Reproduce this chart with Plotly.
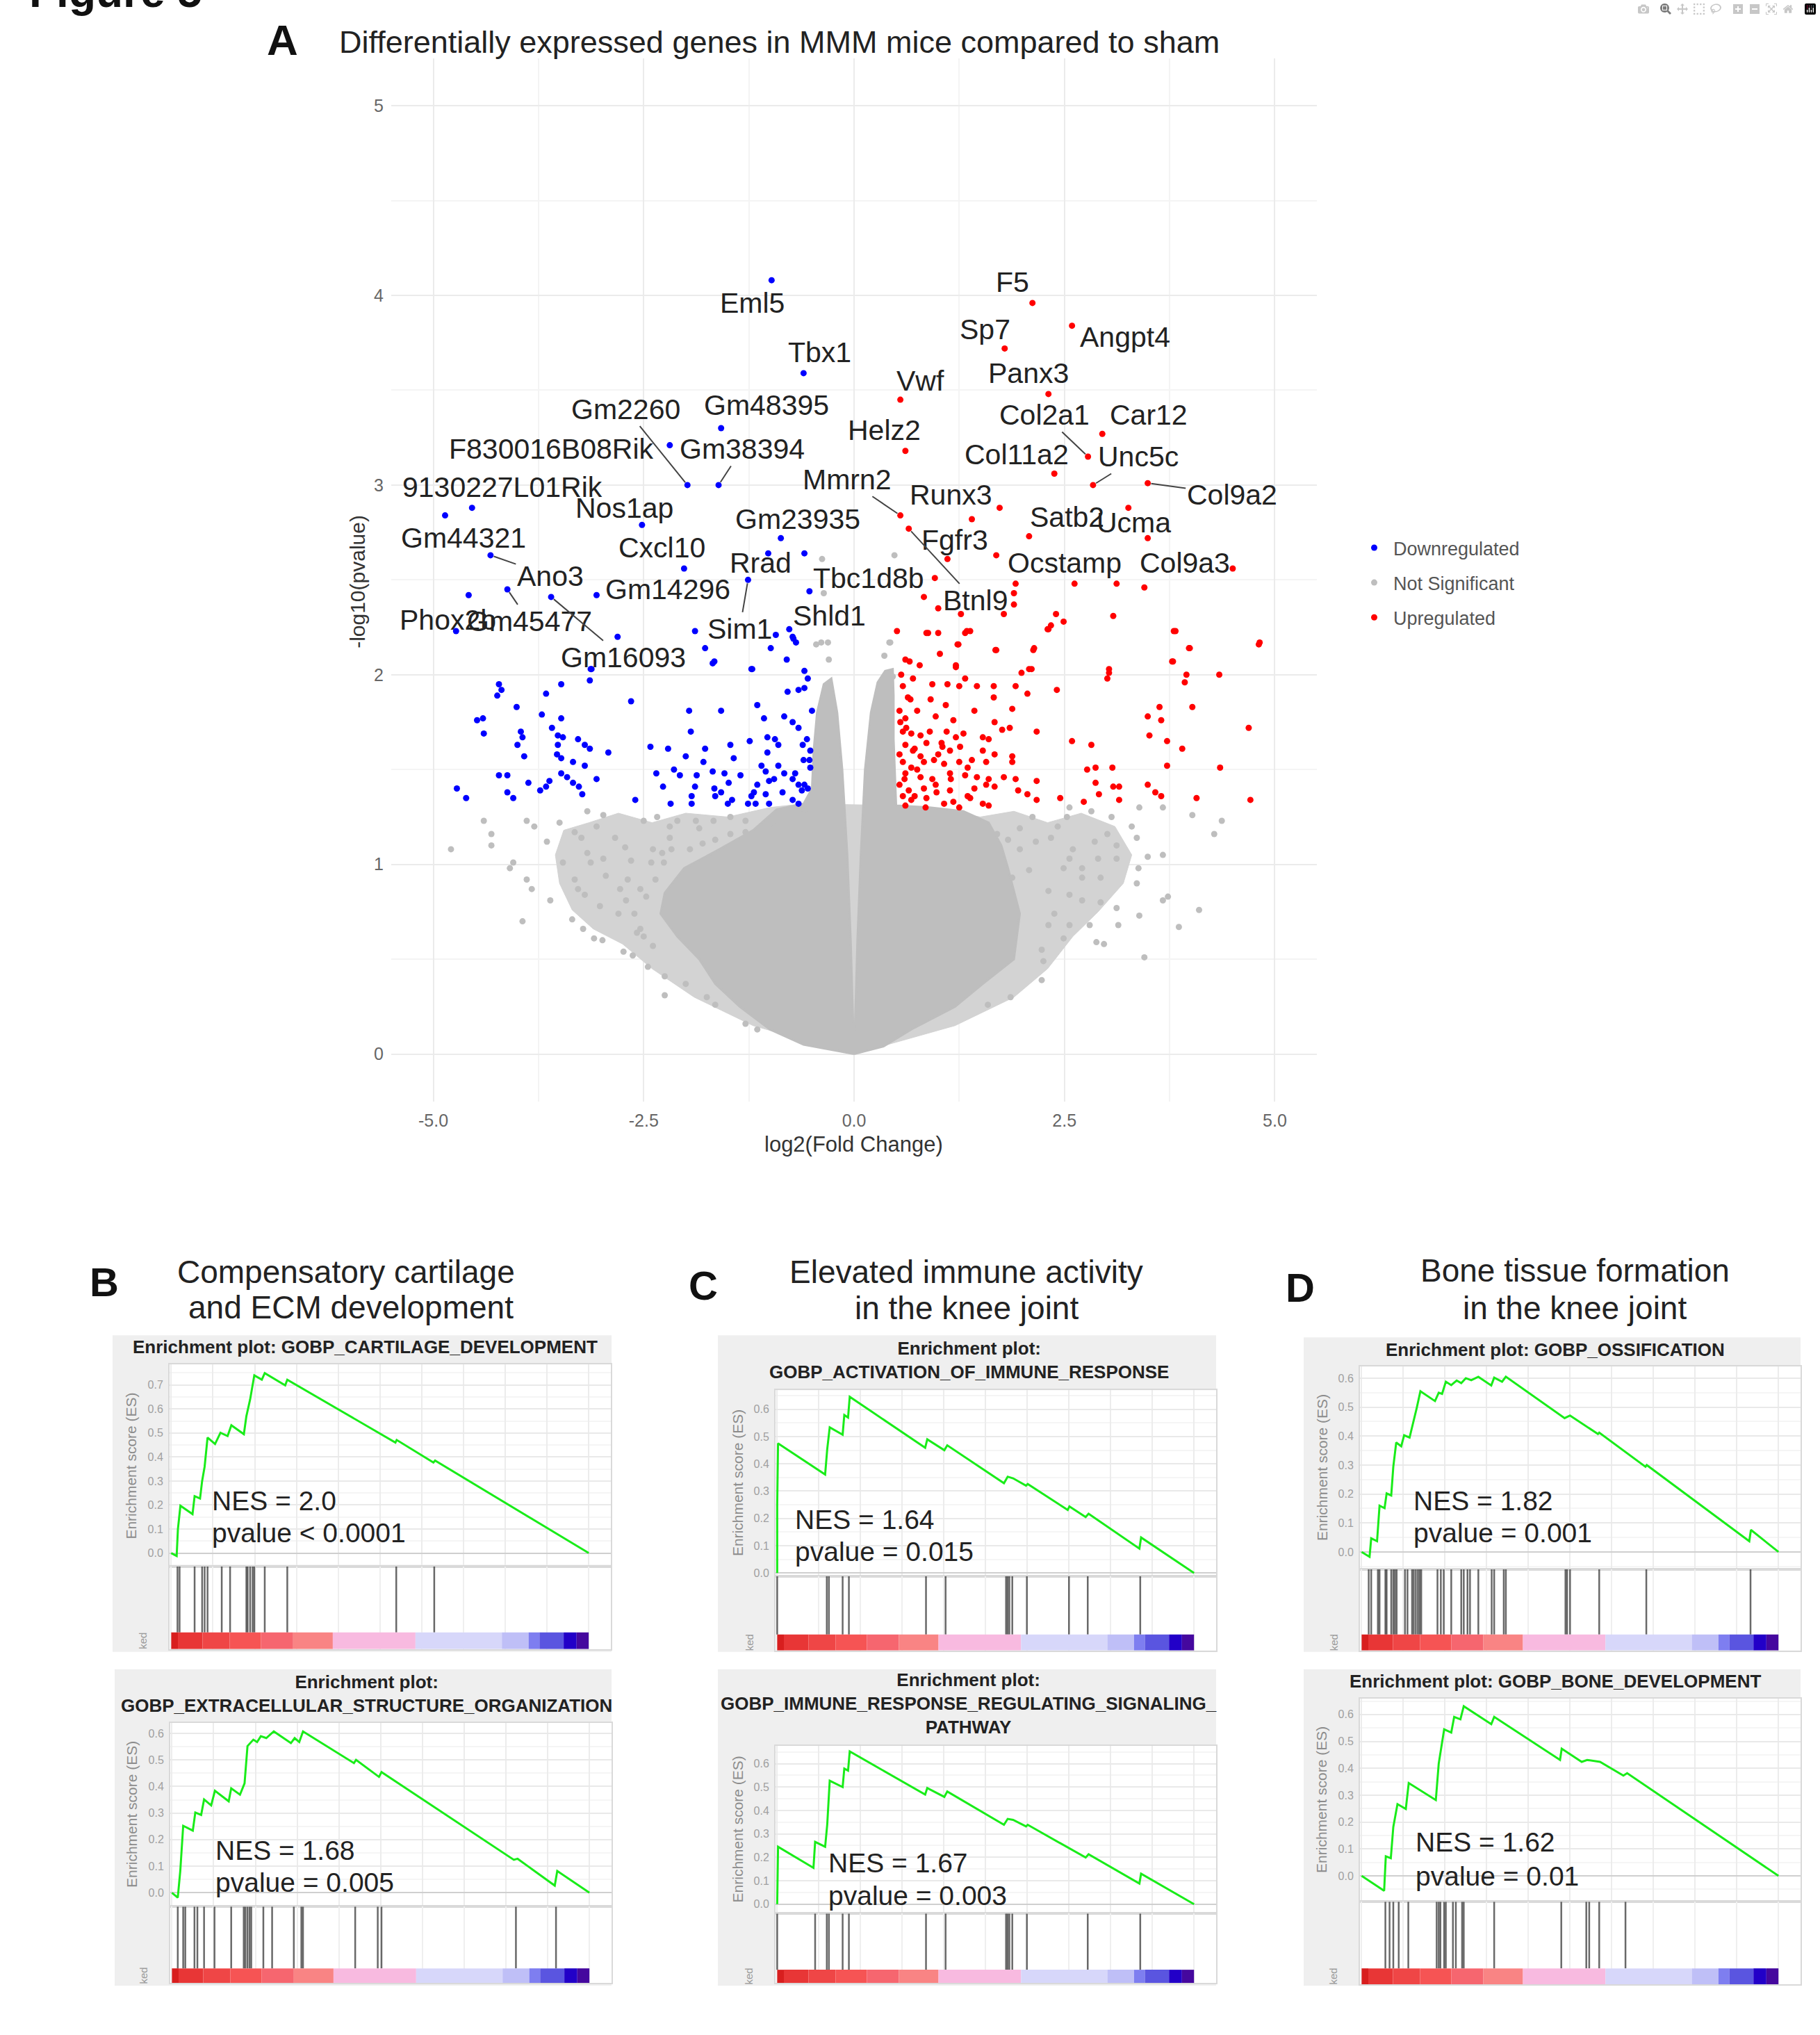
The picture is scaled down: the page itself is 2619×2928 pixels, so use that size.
import plotly.graph_objects as go

W, H = 2619, 2928
FONT = "Liberation Sans, Arial, Helvetica, sans-serif"

# ---------------- Panel A: volcano data ----------------
x_ticks = [-5.0, -2.5, 0.0, 2.5, 5.0]
x_tick_labels = ["-5.0", "-2.5", "0.0", "2.5", "5.0"]
y_ticks = [0, 1, 2, 3, 4, 5]
y_tick_labels = ["0", "1", "2", "3", "4", "5"]

down_pts = [
    (-2.81, 2.20), (-1.89, 2.23), (-0.93, 2.21), (-0.73, 2.20), (-0.69, 2.17), (-1.77, 2.14), (-0.99, 2.14),
    (-1.66, 2.07), (-1.68, 2.06), (-0.80, 2.08), (-1.22, 2.03), (-3.13, 2.03), (-3.14, 1.97), (-0.59, 2.02),
    (-0.55, 1.98), (-4.22, 1.95), (-4.19, 1.92), (-4.24, 1.89), (-3.66, 1.90), (-3.48, 1.95), (-2.65, 1.86),
    (-0.59, 1.93), (-0.66, 1.92), (-0.79, 1.91), (-4.01, 1.83), (-4.48, 1.76), (-4.41, 1.77), (-4.40, 1.69),
    (-3.71, 1.79), (-3.48, 1.77), (-3.59, 1.72), (-3.96, 1.70), (-3.94, 1.67), (-4.00, 1.63), (-3.92, 1.57),
    (-3.52, 1.68), (-3.46, 1.67), (-3.52, 1.63), (-3.53, 1.58), (-3.48, 1.56), (-3.28, 1.66), (-3.20, 1.63),
    (-3.14, 1.61), (-2.92, 1.59), (-1.96, 1.81), (-1.58, 1.81), (-1.15, 1.84), (-1.07, 1.77), (-0.83, 1.78),
    (-0.73, 1.75), (-0.66, 1.72), (-0.50, 1.81), (-1.94, 1.70), (-1.24, 1.65), (-1.03, 1.67), (-0.94, 1.66),
    (-0.90, 1.63), (-1.03, 1.59), (-0.61, 1.63), (-0.52, 1.60), (-0.53, 1.55), (-0.52, 1.51), (-2.42, 1.62),
    (-2.21, 1.61), (-2.00, 1.57), (-1.77, 1.61), (-1.47, 1.63), (-1.43, 1.56), (-2.35, 1.48), (-2.14, 1.50),
    (-2.07, 1.47), (-1.79, 1.54), (-1.68, 1.49), (-1.54, 1.48), (-1.87, 1.47), (-1.89, 1.41), (-1.93, 1.36),
    (-1.66, 1.40), (-1.58, 1.38), (-1.49, 1.43), (-1.65, 1.36), (-1.15, 1.42), (-1.05, 1.49), (-0.90, 1.52),
    (-0.83, 1.48), (-1.01, 1.44), (-1.19, 1.38), (-1.22, 1.36), (-1.26, 1.32), (-1.17, 1.32), (-1.05, 1.37),
    (-1.01, 1.32), (-0.73, 1.45), (-0.66, 1.42), (-0.59, 1.42), (-0.62, 1.39), (-0.73, 1.34), (-0.66, 1.32),
    (-2.27, 1.41), (-2.60, 1.34), (-2.18, 1.32), (-1.93, 1.32), (-1.50, 1.32), (-4.22, 1.47), (-4.12, 1.47),
    (-3.62, 1.44), (-3.66, 1.41), (-3.73, 1.39), (-3.48, 1.48), (-3.41, 1.46), (-3.34, 1.43), (-3.27, 1.41),
    (-3.23, 1.37), (-3.06, 1.45), (-3.34, 1.54), (-3.20, 1.52), (-4.72, 1.40), (-4.61, 1.35), (-4.12, 1.38),
    (-4.05, 1.35), (-3.87, 1.43), (-4.58, 2.42), (-0.59, 2.64), (-0.72, 2.19), (-1.21, 2.03), (-3.12, 2.03),
    (-0.55, 1.40), (-0.60, 1.55), (-0.70, 1.48), (-0.85, 1.38), (-0.95, 1.45), (-1.10, 1.52), (-0.56, 1.66),
    (-1.35, 1.47), (-1.45, 1.34),
]

up_pts = [
    (0.51, 2.23), (0.86, 2.22), (1.00, 2.22), (1.32, 2.22), (1.38, 2.23), (2.31, 2.24), (3.80, 2.23), (4.81, 2.16),
    (3.99, 2.14), (1.23, 2.16), (1.02, 2.11), (1.69, 2.13), (2.13, 2.13), (0.61, 2.08), (0.66, 2.07), (1.21, 2.04),
    (3.78, 2.07), (3.03, 2.01), (3.01, 1.98), (3.93, 1.96), (4.34, 2.00), (2.08, 2.03), (1.99, 2.01), (0.70, 1.98),
    (0.58, 1.94), (0.93, 1.95), (1.11, 1.95), (1.25, 1.94), (1.32, 1.98), (1.46, 1.94), (1.66, 1.94), (1.92, 1.94),
    (2.06, 1.90), (2.41, 1.92), (1.66, 1.88), (0.67, 1.87), (0.91, 1.87), (1.09, 1.84), (1.88, 1.82), (1.43, 1.81),
    (3.63, 1.83), (4.02, 1.83), (0.54, 1.81), (0.75, 1.81), (0.61, 1.77), (0.97, 1.78), (1.18, 1.76), (1.67, 1.75),
    (1.85, 1.72), (3.49, 1.78), (3.65, 1.76), (4.69, 1.72), (2.17, 1.70), (3.51, 1.68), (3.72, 1.65), (3.90, 1.61),
    (2.59, 1.65), (2.82, 1.63), (0.58, 1.70), (0.68, 1.69), (0.79, 1.68), (0.86, 1.64), (1.04, 1.64), (1.21, 1.67),
    (1.30, 1.69), (1.53, 1.67), (1.60, 1.66), (1.76, 1.71), (0.61, 1.63), (0.72, 1.61), (0.54, 1.58), (0.79, 1.57),
    (1.00, 1.58), (1.14, 1.60), (1.53, 1.60), (1.67, 1.58), (1.88, 1.57), (0.58, 1.54), (0.68, 1.51), (0.83, 1.54),
    (1.07, 1.53), (1.25, 1.54), (1.35, 1.51), (1.57, 1.54), (1.88, 1.54), (3.72, 1.52), (4.35, 1.51), (2.77, 1.50),
    (2.87, 1.51), (3.07, 1.51), (0.61, 1.48), (0.79, 1.46), (0.93, 1.45), (1.14, 1.48), (1.32, 1.47), (1.46, 1.46),
    (1.60, 1.45), (1.78, 1.46), (1.92, 1.45), (2.17, 1.44), (2.87, 1.43), (3.08, 1.41), (3.15, 1.41), (3.49, 1.42),
    (0.54, 1.42), (0.65, 1.39), (0.83, 1.40), (0.97, 1.42), (1.14, 1.39), (1.43, 1.40), (1.57, 1.42), (1.67, 1.41),
    (1.95, 1.39), (2.06, 1.37), (2.17, 1.34), (2.45, 1.35), (2.73, 1.33), (2.91, 1.37), (3.15, 1.34), (3.58, 1.38),
    (3.65, 1.36), (4.07, 1.35), (4.71, 1.34), (0.58, 1.36), (0.68, 1.34), (0.86, 1.35), (1.07, 1.32), (1.18, 1.33),
    (1.35, 1.36), (1.53, 1.32), (0.61, 1.31), (1.60, 1.31), (0.55, 1.75), (0.62, 1.72), (0.70, 1.60), (0.75, 1.50),
    (0.60, 1.45), (0.90, 1.70), (0.95, 1.55), (1.10, 1.70), (1.15, 1.45), (0.85, 1.30), (0.72, 1.36), (1.25, 1.30),
    (1.40, 1.55), (1.38, 1.35), (0.64, 1.88), (0.56, 2.00), (0.78, 2.05), (1.05, 1.62), (0.98, 1.38), (1.26, 1.62),
    (1.73, 2.88), (3.26, 2.88), (0.96, 2.51), (0.83, 2.41), (1.00, 2.35), (1.27, 2.32), (1.92, 2.48), (1.90, 2.43),
    (1.90, 2.37), (1.78, 2.32), (2.62, 2.48), (3.12, 2.48), (3.45, 2.46), (2.40, 2.32), (2.49, 2.28), (2.34, 2.26),
    (2.30, 2.24), (3.08, 2.31), (3.82, 2.23), (3.98, 2.14), (4.82, 2.17), (3.79, 2.07), (0.88, 2.22), (1.34, 2.23),
    (1.24, 2.16), (1.68, 2.13), (2.14, 2.14), (1.21, 2.05), (3.95, 2.00), (3.03, 2.03), (2.11, 2.03),
]

# individually visible not-significant genes
ns_pts = [
    # left flank
    (-4.79, 1.08), (-4.40, 1.23), (-4.31, 1.16), (-4.31, 1.10), (-4.05, 1.01), (-4.09, 0.98), (-3.89, 0.92),
    (-3.83, 0.87), (-3.94, 0.70), (-3.61, 0.81), (-3.89, 1.23), (-3.80, 1.20), (-3.65, 1.12), (-3.50, 1.22),
    (-3.32, 1.17), (-3.24, 1.14), (-3.17, 1.28), (-2.98, 1.26), (-3.06, 1.20), (-3.46, 1.01), (-3.17, 1.06),
    (-3.13, 1.01), (-2.98, 1.03), (-2.95, 0.94), (-3.32, 0.92), (-3.28, 0.87), (-3.20, 0.84), (-3.02, 0.78),
    (-3.35, 0.71), (-3.22, 0.66), (-3.09, 0.61), (-2.74, 0.54), (-2.84, 1.14), (-2.72, 1.09), (-2.65, 1.02),
    (-2.78, 0.87), (-2.71, 0.81), (-2.61, 0.74), (-2.58, 0.64), (-2.45, 0.46), (-2.25, 0.41), (-2.25, 0.31),
    (-1.75, 0.30), (-2.50, 1.23), (-2.34, 1.25), (-2.19, 1.20), (-2.10, 1.23), (-1.88, 1.23), (-1.67, 1.23),
    (-1.47, 1.25), (-1.29, 1.23), (-2.39, 1.08), (-2.28, 1.06), (-2.17, 1.08), (-2.41, 1.01), (-2.26, 1.01),
    (-2.19, 1.14), (-1.95, 1.08), (-1.80, 1.11), (-1.65, 1.13), (-1.47, 1.16), (-1.29, 1.17), (-1.84, 1.19),
    (-2.69, 0.92), (-2.54, 0.87), (-2.47, 0.83), (-2.36, 0.92), (-2.80, 0.74), (-2.54, 0.66), (-2.50, 0.62),
    (-2.39, 0.57), (-2.00, 0.37), (-1.65, 0.26), (-1.29, 0.16), (-1.15, 0.13), (-2.99, 0.60), (-2.63, 0.52),
    (-0.94, 1.20), (-0.59, 1.29),
    # right flank
    (2.56, 1.30), (3.39, 1.30), (3.67, 1.30), (4.02, 1.26), (4.37, 1.23), (4.28, 1.16), (3.67, 1.05), (3.49, 1.04),
    (4.10, 0.76), (3.86, 0.67), (3.45, 0.51), (3.39, 0.73), (3.12, 0.77), (3.14, 0.68), (2.97, 0.58), (2.88, 0.59),
    (2.80, 0.68), (3.36, 1.14), (3.30, 1.20), (3.38, 0.98), (3.36, 0.90), (3.67, 0.81), (3.73, 0.83), (3.12, 1.10),
    (3.01, 1.16), (3.06, 1.25), (2.82, 1.28), (2.86, 1.12), (2.90, 1.03), (2.93, 0.93), (3.12, 1.03), (2.60, 1.08),
    (2.49, 0.98), (2.42, 1.20), (2.53, 1.25), (2.16, 1.12), (2.34, 1.14), (2.56, 1.03), (2.71, 0.98), (2.71, 0.93),
    (2.56, 0.84), (2.71, 0.81), (2.93, 0.80), (2.31, 0.86), (2.38, 0.74), (2.31, 0.68), (2.23, 0.55), (2.25, 0.49),
    (2.23, 0.39), (1.86, 0.30), (1.59, 0.26), (1.97, 1.19), (2.12, 1.25), (1.83, 1.13), (1.70, 1.16), (1.97, 1.08),
    (2.08, 0.97), (1.88, 0.93), (2.49, 0.61), (2.56, 0.68),
    # near the centre, above the cloud
    (-0.39, 2.17), (-0.38, 2.61), (-0.36, 2.43), (-0.45, 2.16), (0.42, 2.17), (0.48, 2.63), (0.43, 2.17),
    (-0.31, 2.17), (0.46, 1.99), (-0.30, 2.08), (0.36, 2.10),
]

# outline of the loosely packed part of the not-significant cloud
ns_outer = [
    (0.0, 0.0), (-1.2, 0.15), (-1.9, 0.30), (-2.4, 0.45), (-2.75, 0.58), (-3.1, 0.66), (-3.35, 0.76),
    (-3.5, 0.90), (-3.55, 1.05), (-3.45, 1.18), (-3.15, 1.22), (-2.8, 1.27), (-2.4, 1.22), (-2.0, 1.27),
    (-1.5, 1.25), (-1.0, 1.30), (-0.6, 1.32), (0.5, 1.31), (1.0, 1.29), (1.5, 1.25), (1.9, 1.28), (2.3, 1.22),
    (2.7, 1.27), (3.1, 1.20), (3.3, 1.05), (3.2, 0.90), (2.9, 0.75), (2.6, 0.62), (2.3, 0.45), (1.9, 0.30),
    (1.2, 0.15), (0.0, 0.0),
]
# outline of the densely packed core of the cloud (with the central notch)
ns_core = [
    (0.0, 0.0), (-0.6, 0.05), (-1.0, 0.13), (-1.36, 0.25), (-1.65, 0.37), (-1.84, 0.50), (-2.1, 0.62),
    (-2.3, 0.74), (-2.25, 0.85), (-2.02, 0.98), (-1.6, 1.08), (-1.2, 1.18), (-0.92, 1.29), (-0.6, 1.32),
    (-0.5, 1.40), (-0.48, 1.60), (-0.44, 1.80), (-0.36, 1.95), (-0.27, 1.98), (-0.20, 1.80), (-0.14, 1.50),
    (-0.08, 1.05), (-0.04, 0.60), (-0.01, 0.14), (0.01, 0.125), (0.04, 0.60), (0.08, 1.05), (0.13, 1.50),
    (0.20, 1.80), (0.28, 1.96), (0.37, 2.02), (0.46, 2.03), (0.47, 1.89), (0.47, 1.66), (0.50, 1.31),
    (0.9, 1.30), (1.3, 1.28), (1.6, 1.22), (1.75, 1.10), (1.83, 0.98), (1.97, 0.74), (1.90, 0.50),
    (1.53, 0.37), (1.2, 0.25), (0.68, 0.13), (0.35, 0.04), (0.0, 0.0),
]

gene_names = ["Eml5", "Tbx1", "Gm48395", "Gm2260", "F830016B08Rik", "Gm38394", "9130227L01Rik", "Nos1ap",
              "Gm44321", "Ano3", "Phox2b", "Gm45477", "Gm16093", "Cxcl10", "Gm14296", "Gm23935", "Rrad", "Sim1",
              "Tbc1d8b", "Shld1", "Mmrn2", "Helz2", "Vwf", "F5", "Sp7", "Angpt4", "Panx3", "Col2a1", "Car12",
              "Col11a2", "Unc5c", "Col9a2", "Runx3", "Satb2", "Ucma", "Fgfr3", "Btnl9", "Ocstamp", "Col9a3"]
gene_x = [-0.98, -0.60, -1.58, -1.98, -2.19, -1.61, -4.54, -2.52, -4.86, -4.32, -4.73, -4.12, -3.60, -2.02,
          -3.06, -0.87, -1.02, -1.26, -0.53, -0.77, 0.55, 0.61, 0.55, 2.12, 1.79, 2.59, 2.31, 2.78, 2.95, 2.38,
          2.84, 3.49, 1.40, 2.08, 3.49, 1.11, 0.65, 1.69, 4.50]
gene_y = [4.08, 3.59, 3.30, 3.00, 3.21, 3.00, 2.88, 2.79, 2.84, 2.63, 2.23, 2.45, 2.41, 2.56, 2.42, 2.72, 2.64,
          2.50, 2.44, 2.24, 2.84, 3.18, 3.45, 3.96, 3.72, 3.84, 3.48, 3.15, 3.27, 3.06, 3.00, 3.01, 2.82, 2.73,
          2.72, 2.61, 2.77, 2.63, 2.56]
# label placement (ggrepel-style offsets)
label_x = [-1.21, -0.41, -1.04, -2.71, -3.60, -1.33, -4.18, -2.73, -4.64, -3.61, -4.83, -3.86, -2.74, -2.28,
           -2.21, -0.67, -1.11, -1.36, 0.17, -0.29, -0.08, 0.36, 0.79, 1.88, 1.56, 3.22, 2.07, 2.26, 3.50, 1.93,
           3.38, 4.49, 1.15, 2.53, 3.32, 1.20, 1.44, 2.50, 3.93]
label_y = [3.96, 3.70, 3.42, 3.40, 3.19, 3.19, 2.99, 2.88, 2.72, 2.52, 2.29, 2.28, 2.09, 2.67, 2.45, 2.82, 2.59,
           2.24, 2.51, 2.31, 3.03, 3.29, 3.55, 4.07, 3.82, 3.78, 3.59, 3.37, 3.37, 3.16, 3.15, 2.95, 2.95, 2.83,
           2.80, 2.71, 2.39, 2.59, 2.59]
segment_genes = ["Gm2260", "Gm38394", "Ano3", "Gm45477", "Gm16093", "Sim1", "Mmrn2", "Btnl9", "Col2a1",
                 "Unc5c", "Col9a2"]

# ---------------- GSEA panels data ----------------
es_B1_x = [0, 0.013, 0.016, 0.022, 0.051, 0.056, 0.069, 0.074, 0.080, 0.087, 0.105, 0.118, 0.135, 0.144, 0.174,
           0.180, 0.189, 0.199, 0.217, 0.224, 0.273, 0.278, 0.537, 0.540, 0.628, 0.632, 1.0]
es_B1_y = [0, -0.012, 0.10, 0.197, 0.162, 0.237, 0.227, 0.30, 0.36, 0.481, 0.454, 0.501, 0.487, 0.532, 0.495,
           0.57, 0.64, 0.740, 0.722, 0.749, 0.698, 0.722, 0.460, 0.471, 0.377, 0.385, 0.0]
hits_B1 = [0.015, 0.020, 0.056, 0.074, 0.080, 0.087, 0.121, 0.141, 0.180, 0.183, 0.189, 0.195, 0.199, 0.224,
           0.278, 0.539, 0.630]

es_B2_x = [0, 0.014, 0.020, 0.027, 0.050, 0.056, 0.070, 0.077, 0.094, 0.103, 0.136, 0.142, 0.163, 0.174, 0.181,
           0.195, 0.204, 0.213, 0.226, 0.244, 0.285, 0.294, 0.305, 0.314, 0.436, 0.441, 0.496, 0.502, 0.819,
           0.828, 0.917, 0.923, 1.0]
es_B2_y = [0, -0.018, 0.082, 0.252, 0.234, 0.302, 0.293, 0.351, 0.329, 0.384, 0.344, 0.393, 0.369, 0.412, 0.552,
           0.576, 0.567, 0.589, 0.582, 0.607, 0.563, 0.582, 0.567, 0.607, 0.488, 0.500, 0.436, 0.454, 0.124,
           0.128, 0.027, 0.082, 0.0]
hits_B2 = [0.014, 0.027, 0.032, 0.054, 0.061, 0.077, 0.102, 0.142, 0.172, 0.176, 0.181, 0.186, 0.190, 0.219,
           0.240, 0.292, 0.310, 0.314, 0.439, 0.493, 0.502, 0.824, 0.920]

es_C1_x = [0, 0, 0.002, 0.115, 0.120, 0.126, 0.157, 0.161, 0.170, 0.174, 0.355, 0.360, 0.401, 0.408, 0.544,
           0.553, 0.566, 0.597, 0.601, 0.697, 0.701, 0.740, 0.747, 0.869, 0.873, 1.0]
es_C1_y = [0, 0.249, 0.475, 0.361, 0.454, 0.534, 0.507, 0.579, 0.570, 0.646, 0.459, 0.490, 0.450, 0.468, 0.329,
           0.353, 0.347, 0.320, 0.326, 0.231, 0.244, 0.205, 0.217, 0.089, 0.130, 0.0]
hits_C1 = [0.0, 0.119, 0.124, 0.157, 0.172, 0.357, 0.404, 0.549, 0.553, 0.557, 0.564, 0.599, 0.700, 0.745, 0.871]

es_C2_x = [0, 0.002, 0.087, 0.091, 0.115, 0.120, 0.126, 0.157, 0.161, 0.170, 0.174, 0.355, 0.360, 0.401, 0.408,
           0.544, 0.553, 0.566, 0.597, 0.601, 0.740, 0.747, 0.869, 0.873, 1.0]
es_C2_y = [0, 0.245, 0.155, 0.266, 0.245, 0.339, 0.527, 0.500, 0.579, 0.570, 0.652, 0.468, 0.496, 0.458, 0.481,
           0.339, 0.364, 0.360, 0.332, 0.339, 0.199, 0.213, 0.088, 0.130, 0.0]
hits_C2 = [0.0, 0.091, 0.119, 0.124, 0.157, 0.172, 0.357, 0.404, 0.549, 0.553, 0.557, 0.564, 0.599, 0.745, 0.871]

es_D1_x = [0, 0.019, 0.023, 0.037, 0.043, 0.055, 0.060, 0.071, 0.076, 0.083, 0.095, 0.102, 0.115, 0.121, 0.132,
           0.141, 0.176, 0.185, 0.193, 0.202, 0.215, 0.228, 0.239, 0.250, 0.263, 0.280, 0.311, 0.318, 0.337,
           0.346, 0.487, 0.500, 0.567, 0.570, 0.681, 0.684, 0.930, 0.934, 1.0]
es_D1_y = [0, -0.017, 0.047, 0.037, 0.160, 0.151, 0.202, 0.195, 0.294, 0.378, 0.365, 0.403, 0.395, 0.429, 0.496,
           0.555, 0.521, 0.550, 0.546, 0.588, 0.576, 0.592, 0.583, 0.600, 0.593, 0.605, 0.575, 0.602, 0.588,
           0.605, 0.462, 0.471, 0.407, 0.412, 0.294, 0.300, 0.037, 0.076, 0.0]
hits_D1 = [0.017, 0.023, 0.039, 0.043, 0.057, 0.060, 0.071, 0.076, 0.080, 0.084, 0.104, 0.110, 0.121, 0.125,
           0.130, 0.135, 0.139, 0.143, 0.182, 0.190, 0.197, 0.215, 0.239, 0.245, 0.254, 0.260, 0.280, 0.312,
           0.318, 0.341, 0.346, 0.489, 0.493, 0.500, 0.570, 0.683, 0.933]

es_D2_x = [0, 0.054, 0.058, 0.070, 0.076, 0.086, 0.106, 0.113, 0.178, 0.185, 0.198, 0.215, 0.222, 0.237, 0.245,
           0.311, 0.318, 0.476, 0.480, 0.528, 0.541, 0.572, 0.628, 0.637, 1.0]
es_D2_y = [0, -0.055, 0.073, 0.066, 0.182, 0.267, 0.249, 0.345, 0.282, 0.418, 0.545, 0.533, 0.591, 0.582, 0.631,
           0.564, 0.591, 0.431, 0.473, 0.424, 0.431, 0.424, 0.373, 0.382, 0.0]
hits_D2 = [0.057, 0.067, 0.076, 0.089, 0.112, 0.180, 0.185, 0.189, 0.198, 0.202, 0.219, 0.226, 0.241, 0.245,
           0.318, 0.479, 0.539, 0.546, 0.570, 0.633]

# ranked-list colour bar (same ranked list in every panel)
cb_edges = [0, 0.016, 0.075, 0.14, 0.215, 0.292, 0.387, 0.585, 0.792, 0.856, 0.882, 0.94, 0.971, 1.0]
cb_colors = ["#d81e1e", "#e83636", "#ef4646", "#f65454", "#f6666f", "#f98484", "#f8bae0", "#d7d7fa",
             "#bfbff7", "#7e7ef0", "#5a55e0", "#2200c8", "#45089e"]

panel_titles = ["Enrichment plot: GOBP_CARTILAGE_DEVELOPMENT",
                "Enrichment plot:<br>GOBP_EXTRACELLULAR_STRUCTURE_ORGANIZATION",
                "Enrichment plot:<br>GOBP_ACTIVATION_OF_IMMUNE_RESPONSE",
                "Enrichment plot:<br>GOBP_IMMUNE_RESPONSE_REGULATING_SIGNALING_<br>PATHWAY",
                "Enrichment plot: GOBP_OSSIFICATION",
                "Enrichment plot: GOBP_BONE_DEVELOPMENT"]
nes_labels = ["NES = 2.0", "NES = 1.68", "NES = 1.64", "NES = 1.67", "NES = 1.82", "NES = 1.62"]
pval_labels = ["pvalue < 0.0001", "pvalue = 0.005", "pvalue = 0.015", "pvalue = 0.003", "pvalue = 0.001",
               "pvalue = 0.01"]
es_series = [(es_B1_x, es_B1_y, hits_B1), (es_B2_x, es_B2_y, hits_B2), (es_C1_x, es_C1_y, hits_C1),
             (es_C2_x, es_C2_y, hits_C2), (es_D1_x, es_D1_y, hits_D1), (es_D2_x, es_D2_y, hits_D2)]

section_letters = ["B", "C", "D"]
section_lines = [("Compensatory cartilage", "and ECM development"),
                 ("Elevated immune activity", "in the knee joint"),
                 ("Bone tissue formation", "in the knee joint")]

# ---------------- layout geometry (pixels) ----------------
panel_geom = [
    dict(box=(162, 1924, 880, 2380), L=244, R=879, et=1966, eb=2257, hb=2352, cb=2376, rng=(-0.056, 0.785),
         tc=(525, 1941), nes=(303, 2162, 2209)),
    dict(box=(165, 2405, 880, 2861), L=245, R=880, et=2482, eb=2747, hb=2836, cb=2857, rng=(-0.052, 0.64),
         tc=(527, 2440), nes=(308, 2666, 2712)),
    dict(box=(1033, 1924, 1750, 2380), L=1116, R=1750, et=2003, eb=2271, hb=2355, cb=2378, rng=(-0.012, 0.67),
         tc=(1394, 1960), nes=(1142, 2189, 2236)),
    dict(box=(1033, 2405, 1750, 2861), L=1116, R=1750, et=2515, eb=2757, hb=2838, cb=2857, rng=(-0.04, 0.677),
         tc=(1394, 2454), nes=(1190, 2684, 2731)),
    dict(box=(1876, 1927, 2591, 2380), L=1957, R=2591, et=1969, eb=2261, hb=2355, cb=2378, rng=(-0.06, 0.64),
         tc=(2238, 1945), nes=(2032, 2162, 2209)),
    dict(box=(1876, 2405, 2591, 2861), L=1957, R=2591, et=2447, eb=2740, hb=2836, cb=2859, rng=(-0.096, 0.66),
         tc=(2238, 2422), nes=(2035, 2654, 2703)),
]
section_pos = [((150, 1847), (498, 1833), (505, 1884)),
               ((1012, 1852), (1390, 1833), (1391, 1885)),
               ((1871, 1855), (2266, 1831), (2266, 1885))]


def px(x):
    return x / W


def py(y):
    return 1 - y / H


def pann(text, x, y, size, color="#222222", bold=False, xanchor="center", yanchor="middle", angle=0):
    return dict(text=f"<b>{text}</b>" if bold else text, x=px(x), y=py(y), xref="paper", yref="paper",
                showarrow=False, xanchor=xanchor, yanchor=yanchor, textangle=angle,
                font=dict(family=FONT, size=size, color=color))


fig = go.Figure()
annotations = []
shapes = []
axes = {}

# ---------------- Panel A ----------------
fig.add_trace(go.Scatter(x=[p[0] for p in ns_outer], y=[p[1] for p in ns_outer], mode="lines", fill="toself",
                         fillcolor="#d3d3d3", line=dict(color="#d3d3d3", width=1), hoverinfo="skip",
                         showlegend=False, xaxis="x", yaxis="y"))
fig.add_trace(go.Scatter(x=[p[0] for p in ns_core], y=[p[1] for p in ns_core], mode="lines", fill="toself",
                         fillcolor="#bebebe", line=dict(color="#bebebe", width=3), hoverinfo="skip",
                         showlegend=False, xaxis="x", yaxis="y"))
fig.add_trace(go.Scatter(x=[p[0] for p in ns_pts], y=[p[1] for p in ns_pts], mode="markers",
                         marker=dict(color="#bebebe", size=9), name="Not Significant", legendrank=2,
                         legendgroup="ns", xaxis="x", yaxis="y"))
dx = [p[0] for p in down_pts] + [gx for gx in gene_x if gx < 0]
dy = [p[1] for p in down_pts] + [gy for gx, gy in zip(gene_x, gene_y) if gx < 0]
ux = [p[0] for p in up_pts] + [gx for gx in gene_x if gx > 0]
uy = [p[1] for p in up_pts] + [gy for gx, gy in zip(gene_x, gene_y) if gx > 0]
fig.add_trace(go.Scatter(x=dx, y=dy, mode="markers", marker=dict(color="#0000ff", size=9), name="Downregulated",
                         legendrank=1, legendgroup="down", xaxis="x", yaxis="y"))
fig.add_trace(go.Scatter(x=ux, y=uy, mode="markers", marker=dict(color="#ff0000", size=9), name="Upregulated",
                         legendrank=3, legendgroup="up", xaxis="x", yaxis="y"))

for name, gx, gy, lx, ly in zip(gene_names, gene_x, gene_y, label_x, label_y):
    if name in segment_genes:
        annotations.append(dict(text=name, x=gx, y=gy, ax=lx, ay=ly, xref="x", yref="y", axref="x", ayref="y",
                                showarrow=True, arrowhead=0, arrowwidth=2, arrowcolor="#444444", standoff=5,
                                font=dict(family=FONT, size=41, color="#222222")))
    else:
        annotations.append(dict(text=name, x=lx, y=ly, xref="x", yref="y", showarrow=False,
                                font=dict(family=FONT, size=41, color="#222222")))

axes["xaxis"] = dict(domain=[px(563), px(1895)], range=[-5.5, 5.5], tickvals=x_ticks, ticktext=x_tick_labels,
                     showgrid=True, gridcolor="#ebebeb", gridwidth=2, zeroline=False, showline=False, ticks="",
                     tickfont=dict(family=FONT, size=25, color="#666666"), ticklabelstandoff=10,
                     minor=dict(tickvals=[-3.75, -1.25, 1.25, 3.75], showgrid=True, gridcolor="#f4f4f4",
                                gridwidth=2), anchor="y")
axes["yaxis"] = dict(domain=[py(1587), py(84)], range=[-0.25, 5.25], tickvals=y_ticks, ticktext=y_tick_labels,
                     showgrid=True, gridcolor="#ebebeb", gridwidth=2, zeroline=False, showline=False, ticks="",
                     tickfont=dict(family=FONT, size=25, color="#666666"), ticklabelstandoff=10,
                     minor=dict(tickvals=[0.5, 1.5, 2.5, 3.5, 4.5], showgrid=True, gridcolor="#f4f4f4",
                                gridwidth=2), anchor="x")

annotations.append(pann("log2(Fold Change)", 1228, 1649, 31, "#333333"))
annotations.append(pann("-log10(pvalue)", 515, 838, 30, "#333333", angle=-90))
annotations.append(pann("A", 406, 58, 62, "#111111", bold=True))
annotations.append(pann("Differentially expressed genes in MMM mice compared to sham", 1121, 61, 45))
annotations.append(pann("Figure 5", 40, -12, 64, "#111111", bold=True, xanchor="left"))

# ---------------- Panels B, C, D ----------------
for s in range(3):
    (lx_, ly_), l1, l2 = section_pos[s]
    annotations.append(pann(section_letters[s], lx_, ly_, 58, "#111111", bold=True))
    annotations.append(pann(section_lines[s][0], l1[0], l1[1], 46))
    annotations.append(pann(section_lines[s][1], l2[0], l2[1], 46))

for k, g in enumerate(panel_geom):
    ie, ih = 2 + 2 * k, 3 + 2 * k
    esx, esy, hits = es_series[k]
    bx0, by0, bx1, by1 = g["box"]
    shapes.append(dict(type="rect", xref="paper", yref="paper", x0=px(bx0), x1=px(bx1), y0=py(by1), y1=py(by0),
                       fillcolor="#efefef", line=dict(width=0), layer="below"))
    shapes.append(dict(type="rect", xref="paper", yref="paper", x0=px(g["L"]), x1=px(g["R"]), y0=py(g["cb"]),
                       y1=py(g["et"]), fillcolor="#ffffff", line=dict(width=0), layer="below"))
    xd = [px(g["L"]), px(g["R"])]
    axes[f"xaxis{ie}"] = dict(domain=xd, range=[-0.004, 1.053], anchor=f"y{ie}", showticklabels=False, ticks="",
                              showgrid=True, gridcolor="#ececec", gridwidth=1.5, dtick=0.1, tick0=0,
                              zeroline=False, showline=True, mirror=True, linecolor="#d9d9d9", linewidth=2)
    axes[f"yaxis{ie}"] = dict(domain=[py(g["eb"]), py(g["et"])], range=list(g["rng"]), anchor=f"x{ie}",
                              dtick=0.1, tick0=0, tickformat=".1f", ticks="",
                              tickfont=dict(family=FONT, size=16, color="#a0a0a0"), ticklabelstandoff=4,
                              showgrid=True, gridcolor="#e9e9e9", gridwidth=1.5,
                              minor=dict(dtick=0.05, tick0=0, showgrid=True, gridcolor="#f5f5f5"),
                              zeroline=True, zerolinecolor="#cfcfcf", zerolinewidth=2,
                              showline=True, mirror=True, linecolor="#d9d9d9", linewidth=2)
    axes[f"xaxis{ih}"] = dict(domain=xd, range=[-0.004, 1.053], anchor=f"y{ih}", showticklabels=False, ticks="",
                              showgrid=True, gridcolor="#efefef", gridwidth=1.5, dtick=0.1, tick0=0,
                              zeroline=False, showline=True, mirror=True, linecolor="#d9d9d9", linewidth=2)
    axes[f"yaxis{ih}"] = dict(domain=[py(g["cb"]), py(g["eb"])], range=[0, 1], anchor=f"x{ih}",
                              showticklabels=False, ticks="", showgrid=False, zeroline=False,
                              showline=True, mirror=True, linecolor="#d9d9d9", linewidth=2)
    f = (g["cb"] - g["hb"]) / (g["cb"] - g["eb"])

    fig.add_trace(go.Scatter(x=esx, y=esy, mode="lines", line=dict(color="#19ec19", width=3), showlegend=False,
                             hoverinfo="skip", xaxis=f"x{ie}", yaxis=f"y{ie}"))
    hx, hy = [], []
    for h in hits:
        hx += [h, h, None]
        hy += [f, 1, None]
    fig.add_trace(go.Scatter(x=hx, y=hy, mode="lines", line=dict(color="rgba(55,55,55,0.75)", width=2.5),
                             showlegend=False, hoverinfo="skip", xaxis=f"x{ih}", yaxis=f"y{ih}"))
    for i, c in enumerate(cb_colors):
        shapes.append(dict(type="rect", xref=f"x{ih}", yref=f"y{ih}", x0=cb_edges[i], x1=cb_edges[i + 1],
                           y0=0, y1=f, fillcolor=c, line=dict(width=0), layer="above"))

    annotations.append(pann(panel_titles[k], g["tc"][0], g["tc"][1], 26, "#222222", bold=True))
    annotations.append(pann(nes_labels[k], g["nes"][0], g["nes"][1], 39, "#222222", xanchor="left"))
    annotations.append(pann(pval_labels[k], g["nes"][0], g["nes"][2], 39, "#222222", xanchor="left"))
    annotations.append(pann("Enrichment score (ES)", g["L"] - 55, (g["et"] + g["eb"]) / 2, 21, "#8c8c8c",
                            angle=-90))
    annotations.append(pann("ked", g["L"] - 38, (g["hb"] + g["cb"]) / 2, 15, "#9a9a9a", angle=-90))

fig.update_layout(
    width=W, height=H, autosize=False, margin=dict(l=0, r=0, t=0, b=0),
    paper_bgcolor="white", plot_bgcolor="white",
    font=dict(family=FONT, color="#222222"),
    showlegend=True,
    legend=dict(x=px(1950), y=py(765), xanchor="left", yanchor="top", bgcolor="rgba(0,0,0,0)",
                font=dict(family=FONT, size=27, color="#555555"), tracegroupgap=12, itemwidth=45),
    annotations=annotations, shapes=shapes, **axes,
)

fig.write_html("out.html", post_script="document.body.style.margin='0';")
